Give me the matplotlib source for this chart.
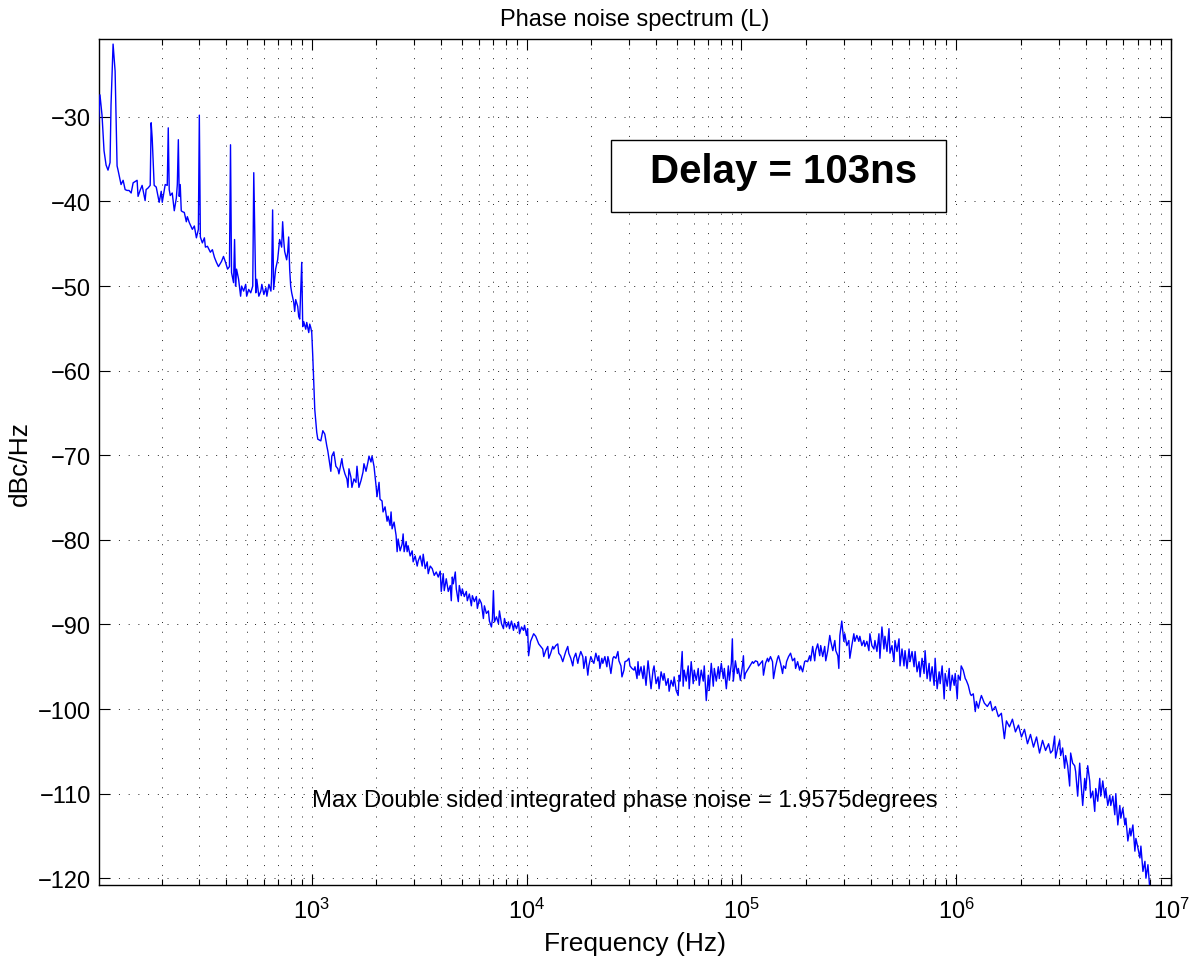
import matplotlib.pyplot as plt
import numpy as np
from matplotlib.patches import Rectangle
from matplotlib.ticker import LogLocator, NullFormatter, FixedLocator

plt.rcParams['font.family'] = ['Liberation Sans', 'DejaVu Sans']
plt.rcParams['mathtext.fontset'] = 'custom'
plt.rcParams['mathtext.rm'] = 'Liberation Sans'

# ---- trace, split by analyser decade ----
freq_100 = [101.1, 103.3, 105.6, 107.9, 110.3, 112.6, 115.1, 116.3, 118.9, 121.5,
            124.1, 125.4, 129.5, 132.4, 135.3, 138.2, 141.1, 144.3, 147.4, 153.8,
            155.4, 158.8, 162.3, 167.6, 169.4, 173.1, 177.0, 178.8, 180.8, 184.7,
            188.8, 194.9, 199.2, 201.4, 207.9, 212.5, 214.8, 217.0, 219.4, 224.2,
            229.1, 234.2, 236.7, 239.3, 241.6, 244.2, 246.9, 249.6, 255.1, 260.7,
            263.5, 269.1, 278.1, 284.1, 290.4, 296.6, 299.7, 303.0, 309.6, 316.4,
            319.9, 326.9, 337.3, 344.7, 352.3, 360.0, 367.9, 380.0, 388.3, 396.9,
            405.6, 413.9, 418.6, 423.2, 432.5, 437.2, 441.9, 446.7, 456.5, 466.5,
            471.6, 481.9, 492.5, 497.8, 508.8, 519.9, 531.3, 537.1, 548.9, 554.8,
            567.0, 579.4, 585.7, 598.5, 611.6, 618.2, 631.7, 645.6, 650.4, 657.4,
            664.5, 679.0, 693.7, 701.2, 708.8, 724.2, 732.0, 739.9, 747.9, 764.2,
            772.5, 780.8, 789.3, 797.8, 806.5, 824.0, 832.9, 841.9, 860.2, 869.5,
            879.0, 898.1, 907.8, 917.6, 937.6, 947.7, 968.3, 978.7, 989.3]
dbc_100 = [-31.9, -27.4, -29.8, -34.0, -35.7, -36.3, -35.4, -28.6, -21.4, -24.6,
           -35.8, -36.3, -38.0, -37.5, -38.6, -38.7, -38.7, -39.0, -37.8, -37.5,
           -39.4, -38.7, -38.1, -39.9, -38.6, -38.4, -38.1, -30.7, -32.5, -38.1,
           -38.3, -40.1, -38.8, -40.1, -38.0, -38.1, -31.3, -38.6, -39.3, -39.0,
           -41.1, -39.6, -38.0, -32.7, -39.4, -38.0, -41.1, -41.2, -41.3, -42.4,
           -41.8, -42.5, -43.3, -42.9, -44.3, -43.3, -29.8, -44.2, -44.9, -44.3,
           -45.4, -45.3, -46.0, -45.7, -46.6, -47.2, -47.7, -47.1, -46.5, -47.2,
           -48.0, -47.7, -33.3, -48.4, -49.6, -44.5, -50.0, -48.0, -49.2, -51.2,
           -50.0, -50.6, -49.8, -51.2, -50.4, -50.8, -50.0, -36.6, -50.8, -49.2,
           -51.2, -50.6, -49.8, -51.0, -50.2, -51.2, -49.8, -50.6, -48.9, -41.0,
           -50.4, -48.0, -46.9, -45.7, -44.5, -45.4, -42.4, -44.5, -45.9, -46.9,
           -46.0, -44.2, -48.0, -50.0, -50.8, -51.9, -53.0, -51.6, -52.4, -53.6,
           -53.9, -47.2, -54.8, -54.2, -55.1, -54.3, -55.5, -54.5, -54.9]

freq_1k = [1000, 1011, 1033, 1055, 1067, 1102, 1126, 1150, 1175, 1188,
           1227, 1240, 1267, 1295, 1323, 1338, 1381, 1396, 1427, 1458,
           1474, 1490, 1522, 1538, 1572, 1606, 1624, 1658, 1695, 1732,
           1750, 1789, 1827, 1847, 1887, 1908, 1949, 1992, 2013, 2057,
           2079, 2124, 2147, 2194, 2242, 2266, 2315, 2340, 2366, 2417,
           2470, 2497, 2524, 2578, 2634, 2663, 2692, 2750, 2780, 2810,
           2871, 2934, 2965, 3030, 3096, 3129, 3197, 3267, 3302, 3374,
           3447, 3485, 3560, 3638, 3717, 3798, 3880, 3964, 4007, 4094,
           4138, 4228, 4320, 4414, 4462, 4510, 4559, 4658, 4708, 4811,
           4863, 4968, 5022, 5131, 5243, 5299, 5415, 5533, 5593, 5714,
           5839, 5902, 6030, 6161, 6295, 6363, 6501, 6643, 6715, 6861,
           6935, 7010, 7086, 7240, 7397, 7477, 7640, 7806, 7890, 8062,
           8237, 8326, 8507, 8692, 8786, 8977, 9172, 9271, 9473, 9679,
           9784, 9996]
dbc_1k = [-55.5, -58.3, -64.6, -67.3, -68.1, -68.3, -67.1, -67.5, -68.9, -69.5,
          -71.9, -70.1, -69.6, -71.3, -71.6, -72.2, -70.4, -71.3, -72.2, -72.8,
          -73.8, -71.6, -72.6, -73.8, -72.8, -73.2, -71.3, -73.8, -73.0, -72.0,
          -71.0, -71.9, -70.8, -70.1, -70.8, -70.1, -71.3, -73.6, -74.9, -73.2,
          -75.2, -75.4, -76.7, -76.1, -77.8, -77.2, -78.3, -76.7, -78.7, -77.9,
          -79.5, -81.4, -79.9, -81.3, -80.5, -79.3, -81.4, -80.2, -81.4, -80.7,
          -81.9, -81.3, -82.6, -81.9, -83.1, -82.5, -81.9, -83.1, -81.7, -83.4,
          -82.6, -84.0, -83.1, -83.4, -84.2, -83.8, -84.4, -83.7, -86.1, -84.0,
          -86.0, -84.6, -86.1, -85.4, -87.2, -84.4, -85.2, -83.8, -85.8, -87.3,
          -85.4, -86.6, -85.8, -86.7, -86.1, -87.2, -86.4, -87.8, -86.6, -87.3,
          -86.7, -88.1, -87.0, -87.5, -89.3, -87.8, -88.7, -88.4, -89.6, -90.3,
          -89.3, -86.0, -89.7, -89.1, -89.9, -88.4, -89.9, -90.5, -89.3, -90.3,
          -89.7, -90.5, -89.6, -90.7, -89.9, -90.5, -89.7, -91.1, -90.3, -90.7,
          -90.1, -91.3]

freq_10k = [10110, 10220, 10440, 10670, 10790, 11030, 11270, 11390, 11630, 11890,
            12020, 12280, 12550, 12690, 12950, 13240, 13380, 13670, 13970, 14120,
            14420, 14740, 14900, 15220, 15550, 15720, 16060, 16410, 16590, 16950,
            17320, 17500, 17880, 18270, 18470, 18870, 19280, 19490, 19910, 20350,
            20570, 21010, 21470, 21700, 21940, 22410, 22650, 23150, 23650, 23910,
            24170, 24690, 25230, 25500, 26050, 26620, 26910, 27500, 27800, 28400,
            28710, 29340, 29970, 30290, 30950, 31630, 31970, 32670, 33020, 33380,
            34100, 34840, 35220, 35980, 36770, 37170, 37970, 38800, 39220, 40070,
            40940, 41380, 42290, 43210, 43680, 44630, 45600, 46090, 47090, 48120,
            48640, 49700, 50780, 51330, 51880, 53010, 53580, 54160, 55340, 56550,
            57160, 58400, 59670, 60320, 61630, 62970, 63650, 65030, 66450, 67160,
            68630, 70120, 70880, 72410, 73990, 74790, 76420, 78080, 78930, 80640,
            82400, 83290, 85100, 86950, 87890, 89800, 90770, 91750, 93750, 95790,
            96820, 98930]
dbc_10k = [-90.5, -93.7, -92.0, -91.4, -91.1, -91.4, -92.0, -92.3, -92.6, -92.9,
           -93.8, -93.1, -92.6, -94.0, -93.4, -92.6, -92.9, -92.5, -92.3, -93.4,
           -93.7, -94.4, -94.0, -93.2, -92.6, -93.4, -94.0, -94.9, -94.0, -93.4,
           -94.6, -94.0, -93.2, -93.8, -95.2, -93.8, -96.0, -94.9, -93.8, -94.4,
           -94.6, -93.4, -94.3, -93.7, -95.2, -94.0, -94.6, -93.8, -95.0, -93.8,
           -94.3, -95.8, -94.0, -93.8, -94.0, -93.2, -94.3, -94.9, -96.2, -95.4,
           -94.4, -94.3, -94.0, -94.9, -95.2, -95.4, -95.0, -96.4, -94.4, -96.0,
           -95.0, -96.4, -94.9, -97.2, -94.3, -95.4, -97.6, -95.4, -94.9, -97.0,
           -96.2, -97.6, -95.6, -96.6, -95.8, -97.2, -96.4, -97.9, -96.6, -97.3,
           -96.2, -97.8, -98.4, -96.0, -96.7, -93.2, -97.3, -95.4, -96.7, -94.9,
           -97.6, -94.4, -97.0, -95.4, -96.6, -95.2, -97.2, -95.4, -96.7, -94.9,
           -99.0, -96.0, -97.8, -94.6, -97.3, -95.2, -96.7, -95.0, -96.4, -94.6,
           -96.4, -95.2, -97.6, -94.9, -96.6, -94.6, -91.7, -96.7, -94.3, -95.8,
           -95.2, -96.6]

freq_100k = [101100, 102200, 103300, 104400, 106700, 109000, 112600, 113800, 116300, 118800,
             120100, 122700, 125400, 126700, 129500, 132300, 133700, 136600, 139600, 141100,
             144200, 147300, 148900, 152200, 155500, 157100, 160500, 162300, 165800, 169400,
             173100, 176900, 178800, 182700, 186600, 188700, 192800, 197000, 199100, 203400,
             207900, 210100, 214700, 219400, 221800, 226600, 231500, 234000, 239100, 244300,
             247000, 252400, 257900, 260700, 266400, 272200, 275100, 281100, 284200, 287300,
             293300, 299800, 303000, 309600, 316400, 319800, 326600, 333800, 337400, 344700,
             352200, 356000, 363700, 371700, 375700, 383900, 392300, 396500, 405000, 413900,
             418400, 427500, 436800, 441500, 451100, 460900, 465900, 476100, 486500, 491700,
             502300, 513300, 518800, 530100, 541700, 547600, 559300, 571500, 577700, 590300,
             603200, 609700, 622900, 636500, 643400, 657400, 671700, 679000, 693600, 708800,
             716400, 732000, 748000, 756100, 772400, 789300, 797800, 815200, 833000, 842000,
             860100, 878900, 888400, 907800, 927600, 937600, 957900, 978800, 989400]
dbc_100k = [-94.9, -93.7, -96.4, -95.8, -95.4, -95.0, -94.4, -94.6, -94.3, -94.4,
            -94.9, -94.6, -94.3, -96.0, -94.6, -94.0, -94.4, -93.8, -94.4, -96.4,
            -95.0, -94.0, -93.7, -94.6, -95.8, -94.9, -95.2, -94.4, -93.8, -93.4,
            -94.3, -94.0, -95.2, -94.4, -95.4, -94.9, -95.6, -94.4, -94.3, -94.4,
            -93.7, -94.3, -92.6, -94.3, -93.1, -92.3, -93.7, -92.5, -93.8, -92.6,
            -94.3, -93.1, -91.3, -92.0, -93.1, -91.9, -93.1, -93.7, -95.2, -91.3,
            -89.6, -92.0, -91.1, -92.5, -91.9, -94.0, -92.5, -91.1, -92.0, -91.3,
            -92.0, -91.4, -92.5, -91.9, -92.6, -92.0, -93.1, -91.1, -92.5, -92.9,
            -91.9, -93.2, -91.1, -94.0, -90.3, -92.9, -91.4, -93.2, -90.5, -93.4,
            -92.5, -94.4, -91.9, -93.2, -91.7, -94.9, -92.9, -94.9, -93.1, -95.2,
            -92.9, -94.4, -93.2, -95.0, -93.2, -95.6, -94.4, -96.2, -94.0, -95.8,
            -93.1, -96.4, -94.6, -96.7, -95.0, -97.2, -94.0, -97.6, -95.6, -97.0,
            -94.9, -98.8, -95.8, -97.3, -95.2, -97.8, -96.0, -97.2, -95.8]

freq_1m_mhz = [1.011, 1.022, 1.044, 1.055, 1.078, 1.102, 1.114, 1.138, 1.163, 1.175,
               1.201, 1.227, 1.241, 1.268, 1.296, 1.310, 1.352, 1.396, 1.443, 1.473,
               1.522, 1.572, 1.623, 1.676, 1.713, 1.770, 1.827, 1.887, 1.949, 2.013,
               2.079, 2.147, 2.217, 2.290, 2.366, 2.443, 2.523, 2.606, 2.692, 2.750,
               2.810, 2.871, 2.902, 2.966, 3.030, 3.063, 3.129, 3.197, 3.232, 3.302,
               3.374, 3.410, 3.484, 3.560, 3.598, 3.677, 3.757, 3.797, 3.880, 3.964,
               4.007, 4.094, 4.183, 4.228, 4.321, 4.414, 4.462, 4.559, 4.658, 4.708,
               4.812, 4.916, 4.969, 5.077, 5.187, 5.243, 5.358, 5.474, 5.533, 5.653,
               5.776, 5.839, 5.967, 6.096, 6.162, 6.296, 6.433, 6.503, 6.645, 6.789,
               6.862, 7.011, 7.164, 7.241, 7.400, 7.561, 7.643, 7.808, 7.978]
dbc_1m = [-98.8, -96.0, -96.6, -94.9, -95.4, -96.4, -96.6, -97.2, -98.2, -98.4,
          -98.2, -100.3, -99.1, -99.9, -98.8, -98.4, -99.3, -99.7, -99.1, -100.2,
          -99.7, -100.9, -100.5, -103.5, -101.4, -102.1, -101.2, -102.7, -101.9, -103.3,
          -102.4, -104.1, -103.0, -104.5, -103.3, -105.2, -103.7, -104.9, -104.1, -105.2,
          -104.9, -103.2, -105.8, -104.6, -103.7, -105.5, -104.6, -107.0, -105.5, -106.7,
          -109.1, -105.2, -106.4, -106.7, -107.4, -110.3, -106.4, -108.2, -111.4, -108.2,
          -109.6, -106.7, -108.5, -110.5, -109.7, -112.1, -109.4, -110.9, -108.2, -110.3,
          -108.5, -110.5, -109.4, -111.4, -110.2, -111.4, -110.3, -112.5, -110.0, -113.7,
          -111.4, -112.9, -111.7, -113.7, -112.9, -115.6, -114.1, -115.0, -113.7, -116.8,
          -115.3, -116.4, -117.6, -116.2, -119.2, -118.0, -120.0, -118.4, -121.5]

freq = np.concatenate([freq_100, freq_1k, freq_10k, freq_100k,
                       np.array(freq_1m_mhz) * 1e6])
dbc = np.concatenate([dbc_100, dbc_1k, dbc_10k, dbc_100k, dbc_1m])

xticks = [1e3, 1e4, 1e5, 1e6, 1e7]
yticks = [-30, -40, -50, -60, -70, -80, -90, -100, -110, -120]

fig = plt.figure(figsize=(11.92, 9.62), dpi=100)
ax = fig.add_axes([0.0831, 0.0790, 0.8993, 0.8794])

ax.semilogx(freq, dbc, color='#0000ff', lw=1.0, zorder=3)

ax.set_xlim(102.3, 1e7)
ax.set_ylim(-120.8, -20.8)
ax.xaxis.set_major_locator(FixedLocator(xticks))
ax.xaxis.set_minor_locator(LogLocator(base=10, subs=np.arange(2, 10), numticks=20))
ax.xaxis.set_minor_formatter(NullFormatter())
ax.set_yticks(yticks)

dots = (0, (1, 9))
ax.grid(True, which='both', axis='x', color='#222222', lw=0.7, linestyle=dots)
ax.grid(True, which='major', axis='y', color='#222222', lw=0.7, linestyle=dots)

ax.tick_params(which='both', direction='in', top=True, right=True,
               labelsize=17, width=0.8)
ax.tick_params(axis='y', pad=6)
ax.tick_params(axis='x', pad=9)
ax.tick_params(which='major', length=8)
ax.tick_params(which='minor', length=4.5)
for s in ax.spines.values():
    s.set_linewidth(1.0)

ax.set_title('Phase noise spectrum (L)', fontsize=17, pad=10)
ax.set_xlabel('Frequency (Hz)', fontsize=19, labelpad=6)
ax.set_ylabel('dBc/Hz', fontsize=19, labelpad=4)

ax.text(1000, -110.8, 'Max Double sided integrated phase noise = 1.9575degrees',
        fontsize=17.2, ha='left', va='center', zorder=4)

ax.add_patch(Rectangle((0.4776, 0.7955), 0.3125, 0.0851, transform=ax.transAxes,
                       facecolor='white', edgecolor='black', lw=1.0, zorder=5))
ax.text(0.514, 0.831, 'Delay = 103ns', transform=ax.transAxes, fontsize=29,
        fontweight='bold', ha='left', va='baseline', zorder=6)

fig.savefig('out.png', dpi=100)
